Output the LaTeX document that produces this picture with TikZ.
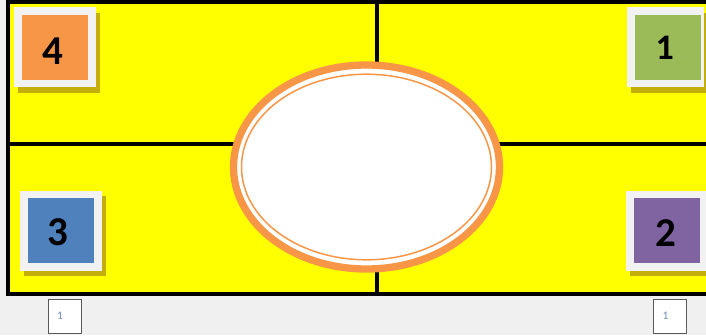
\documentclass[tikz,border=0pt]{standalone}
\usepackage{fontspec}
\setmainfont{Carlito}
\usetikzlibrary{positioning,shapes.geometric,shadows}
\definecolor{paper}{HTML}{F0F0F0}
\definecolor{quadyellow}{HTML}{FFFF00}
\definecolor{ringorange}{HTML}{F79646}
\definecolor{tilegreen}{HTML}{9BBB59}
\definecolor{tileblue}{HTML}{4F81BD}
\definecolor{tilepurple}{HTML}{8064A2}
\definecolor{framegray}{HTML}{F2F2F2}
\definecolor{shade}{RGB}{196,174,12}
\definecolor{numblue}{RGB}{110,140,190}

\begin{document}
\begin{tikzpicture}[
  x=1pt, y=-1pt,
  gridline/.style={line width=4pt, black},
  tileframe/.style={fill=framegray, inner sep=0pt, minimum height=80pt,
               drop shadow={shadow xshift=3.5pt, shadow yshift=-5.5pt, fill=shade, opacity=1}},
  tile/.style={inner sep=0pt, minimum width=66pt, minimum height=65pt},
  digit/.style={inner sep=0pt, font=\bfseries\fontsize{41}{44}\selectfont},
  pagebox/.style={draw=gray!70!black, fill=white, minimum width=33pt, minimum height=34pt, inner sep=0pt},
  pagenum/.style={font=\fontsize{11.5}{13}\selectfont, numblue, inner sep=0pt}
]
\useasboundingbox (0,0) rectangle (706,335);
\clip (0,0) rectangle (706,335);
\fill[paper] (0,0) rectangle (706,335);

% quadrants
\draw[gridline, fill=quadyellow] (8,2) rectangle (712,294);
\coordinate (vtop) at (377,2);
\coordinate (vbot) at (377,294);
\coordinate (hleft) at (8,144);
\coordinate (hright) at (712,144);
\draw[gridline] (vtop) -- (vbot);
\draw[gridline] (hleft) -- (hright);

% centre oval
\node[ellipse, draw=ringorange, line width=7.3pt, fill=white,
      minimum width=266pt, minimum height=204pt, inner sep=0pt] (oval) at (366.5,167) {};
\draw[ringorange, line width=1.5pt] (oval.center) ellipse [x radius=125, y radius=92.8];

% numbered tiles
\node[tileframe, minimum width=82pt] (f4) at (55,47) {};
\node[tile, fill=ringorange] (t4) at (55,47.5) {};
\node[digit] (d4) at (53,51) {4};
\node[tileframe, minimum width=77pt] (f1) at (665.5,47) {};
\node[tile, fill=tilegreen] (t1) at (668,47.5) {};
\node[digit, font=\bfseries\fontsize{36}{40}\selectfont] (d1) at (664.7,47.5) {1};
\node[tileframe, minimum width=82pt] (f3) at (61,230.5) {};
\node[tile, fill=tileblue] (t3) at (61,230) {};
\node[digit] (d3) at (58,232.5) {3};
\node[tileframe, minimum width=82pt] (f2) at (667,230.5) {};
\node[tile, fill=tilepurple] (t2) at (667,230) {};
\node[digit] (d2) at (665.8,233) {2};

% page numbers
\node[pagebox] (pl) at (64.5,316) {};
\node[pagenum] at ([xshift=-4.5pt]pl.center) {1};
\node[pagebox] (pr) at (670,316) {};
\node[pagenum] at ([xshift=-4.5pt]pr.center) {1};
\end{tikzpicture}
\end{document}
